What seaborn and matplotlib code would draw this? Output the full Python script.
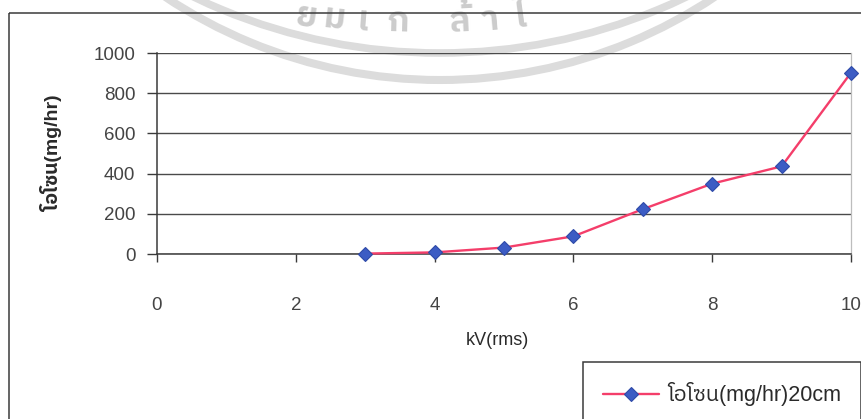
import numpy as np
import pandas as pd
import matplotlib
matplotlib.use("Agg")
import matplotlib.pyplot as plt
from matplotlib import font_manager
from matplotlib.patches import Rectangle, Arc
from matplotlib.transforms import Affine2D
import seaborn as sns

# ---- data -------------------------------------------------------------
voltage_kv = [3, 4, 5, 6, 7, 8, 9, 10]
ozone_mg_hr = [2, 8, 32, 88, 223, 350, 436, 902]
x_ticks = [0, 2, 4, 6, 8, 10]
y_ticks = [0, 200, 400, 600, 800, 1000]
series_label = "โอโซน(mg/hr)20cm"
x_title = "kV(rms)"
y_title = "โอโซน(mg/hr)"
seal_chars = ["ย", "ม", "เ", "ก", "ล้", "า", "ไ"]
seal_char_x = [305, 333, 362, 398, 460, 490, 522]


def find_thai_family():
    """Return the name of an installed family that has Thai glyphs."""
    try:
        from fontTools.ttLib import TTFont
    except Exception:
        return None
    found = []
    for fe in font_manager.fontManager.ttflist:
        try:
            tt = TTFont(fe.fname, fontNumber=0, lazy=True)
            cmap = tt.getBestCmap() or {}
            if 0x0E42 in cmap and 0x0E0B in cmap and 0x0E19 in cmap:
                found.append(fe.name)
        except Exception:
            continue
    if not found:
        return None
    found.sort(key=lambda n: (("Thai" not in n), ("Sans" not in n), ("Looped" in n), n))
    return found[0]


sns.set_theme(style="white")
thai = find_thai_family()
families = ["Liberation Sans"] + ([thai] if thai else []) + ["DejaVu Sans"]
plt.rcParams["font.family"] = families

W, H = 862, 419
fig = plt.figure(figsize=(W / 100, H / 100), dpi=100, facecolor="white")

# pixel coordinates with the origin at the top-left corner
px = Affine2D().scale(1 / W, -1 / H).translate(0, 1) + fig.transFigure

# faint seal printed on the page behind the chart
seal_grey = "#dcdcdc"
fig.add_artist(Arc((440, -416), 2 * 496, 2 * 496, transform=px,
                   color=seal_grey, lw=5.8, zorder=-5))
fig.add_artist(Arc((440, -517), 2 * 570, 2 * 570, transform=px,
                   color=seal_grey, lw=5.5, zorder=-5))
cx, cy, r = 420, -1100, 1132
for ch, x in zip(seal_chars, seal_char_x):
    y = cy + np.sqrt(r ** 2 - (x - cx) ** 2)
    rot = -np.degrees(np.arcsin((cx - x) / r)) * 1.5
    fig.text(x / W, 1 - y / H, ch, fontsize=25, color="#cccccc",
             fontweight="bold", ha="center", va="baseline", rotation=rot,
             rotation_mode="anchor", zorder=-4, family=families)

# outer chart border (continues past the lower and right edges)
fig.add_artist(Rectangle((9, 13), 900, 450, transform=px, fill=False,
                         edgecolor="#3a3a3a", lw=1.1, zorder=1))

# plot area
ax = fig.add_axes([157 / W, 1 - 254 / H, (851 - 157) / W, (254 - 53) / H])
ax.set_facecolor("none")

df = pd.DataFrame({"kv": voltage_kv, "ozone": ozone_mg_hr})
sns.lineplot(data=df, x="kv", y="ozone", ax=ax, color="#f43e6a", lw=1.7,
             marker="D", markersize=7, markerfacecolor="#3c5cc4",
             markeredgecolor="#2f4aa8", markeredgewidth=0.8,
             label=series_label, legend=False, zorder=5)
for ln in ax.lines:
    ln.set_clip_on(False)

ax.set_xlim(0, 10)
ax.set_ylim(0, 1000)
ax.set_xticks(x_ticks)
ax.set_yticks(y_ticks)
ax.set_xticklabels([str(v) for v in x_ticks])
ax.set_yticklabels([str(v) for v in y_ticks])

ax.yaxis.grid(True, color="#4a4a4a", lw=1.0)
ax.xaxis.grid(False)
ax.set_axisbelow(True)

for side in ("left", "bottom"):
    ax.spines[side].set_color("#3a3a3a")
    ax.spines[side].set_linewidth(1.1)
ax.spines["top"].set_visible(False)
ax.spines["right"].set_color("#bdbdbd")
ax.spines["right"].set_linewidth(0.9)

ax.tick_params(axis="x", direction="out", length=6, width=1, color="#3a3a3a",
               pad=25, labelsize=13.5, labelcolor="#444444", bottom=True)
ax.tick_params(axis="y", direction="out", length=7, width=1, color="#3a3a3a",
               pad=8.5, labelsize=13.5, labelcolor="#444444", left=True)

ax.set_xlabel(x_title, fontsize=13, color="#2a2a2a")
ax.set_ylabel(y_title, fontsize=14, color="#2a2a2a", fontweight="bold")
ax.xaxis.set_label_coords(0.49, -0.39)
ax.yaxis.set_label_coords(-0.135, 0.5)

handles, labels = ax.get_legend_handles_labels()
leg = fig.legend(handles, labels, loc="upper left",
                 bbox_to_anchor=(583 / W, 1 - 362 / H),
                 bbox_transform=fig.transFigure, frameon=True,
                 fancybox=False, shadow=False, edgecolor="#3a3a3a",
                 framealpha=1, fontsize=15.5, borderpad=0.95,
                 handlelength=2.6, handletextpad=0.35, borderaxespad=0)
leg.get_frame().set_linewidth(1.1)
for t in leg.get_texts():
    t.set_color("#2a2a2a")

fig.savefig("out.png", dpi=100, facecolor="white")
